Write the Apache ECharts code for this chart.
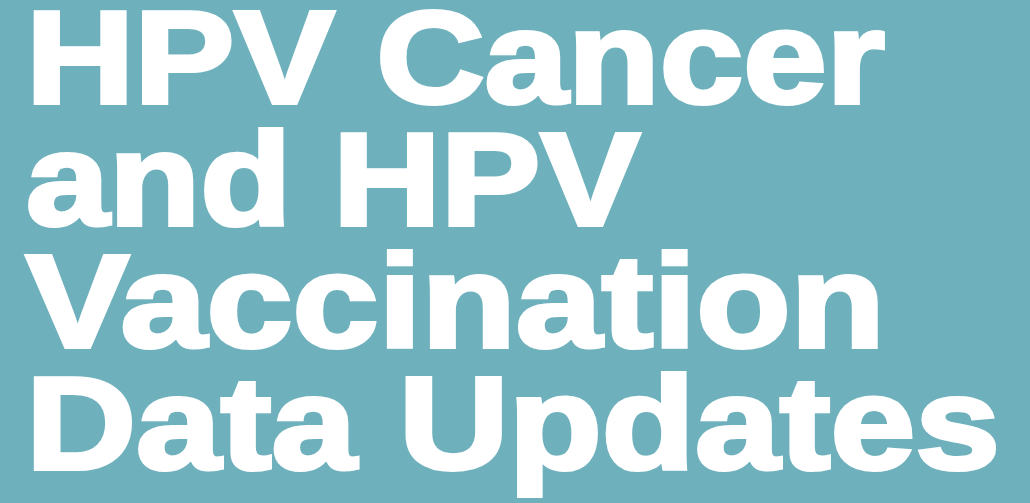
<!DOCTYPE html>
<html>
<head>
<meta charset="utf-8">
<script src="https://cdn.jsdelivr.net/npm/echarts@6/dist/echarts.min.js"></script>
<style>
  html, body { margin: 0; padding: 0; background: #6eb1bd; }
  #main { width: 1030px; height: 503px; }
</style>
</head>
<body>
<div id="main"></div>
<script>
var titleLines = ['HPV Cancer', 'and HPV', 'Vaccination', 'Data Updates'];

var chart = echarts.init(document.getElementById('main'));

var fontSize = 131;
var fontFamily = '"Liberation Sans", Arial, sans-serif';
var lineGap = 122;
var firstBaseline = 110;
var leftX = 26;
// right edge of each line in the picture
var rightEdges = [885, 640, 885, 1000];

var ctx = document.createElement('canvas').getContext('2d');
ctx.font = 'bold ' + fontSize + 'px ' + fontFamily;

var elements = titleLines.map(function (txt, i) {
  var w = ctx.measureText(txt).width;
  var sx = (rightEdges[i] - leftX) / w;
  return {
    type: 'text',
    x: leftX,
    y: firstBaseline + i * lineGap - fontSize * 0.33,
    scaleX: sx,
    style: {
      text: txt,
      fill: '#ffffff',
      stroke: '#ffffff',
      lineWidth: 4,
      font: 'bold ' + fontSize + 'px ' + fontFamily,
      verticalAlign: 'middle',
      align: 'left'
    }
  };
});

chart.setOption({
  backgroundColor: '#6eb1bd',
  graphic: elements
});
</script>
</body>
</html>
